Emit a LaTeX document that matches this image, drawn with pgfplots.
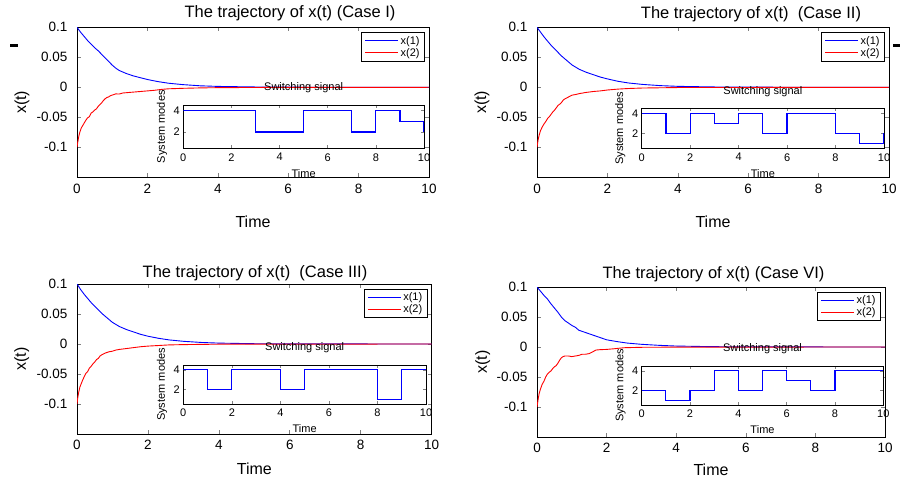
\documentclass[border=0pt]{standalone}
\usepackage{pgfplots}
\pgfplotsset{compat=1.18}
\usepackage{fontspec}
\setmainfont{Liberation Sans}

\definecolor{mblue}{RGB}{0,0,255}
\definecolor{mred}{RGB}{255,0,0}

\pgfplotsset{
  main/.style={
    scale only axis, height=150pt,
    xmin=0, xmax=10, ymin=-0.15, ymax=0.1,
    xtick={0,2,4,6,8,10},
    ytick={-0.1,-0.05,0,0.05,0.1},
    yticklabels={-0.1,-0.05,0,0.05,0.1},
    /pgf/number format/assume math mode=true,
    tick align=inside, major tick length=4pt,
    tick style={line width=0.6pt},
    axis line style={line width=0.8pt},
    ticklabel style={font=\fontsize{13.5}{15}\selectfont},
    yticklabel style={xshift=-6pt},
    xticklabel style={yshift=-3pt},
    xlabel={Time}, ylabel={x(t)},
    label style={font=\fontsize{16}{18}\selectfont},
    xlabel style={at={(axis description cs:0.5,0)}, anchor=center, yshift=-44pt},
    ylabel style={at={(axis description cs:-0.156,0.5)}, anchor=center},
    legend style={at={(axis description cs:1,1)}, anchor=north east,
      xshift=-4pt, yshift=-5pt, line width=0.8pt,
      font=\fontsize{11}{12}\selectfont, inner xsep=3pt, inner ysep=1.5pt,
      row sep=-1.5pt},
    legend cell align={left},
    legend image code/.code={\draw[#1, line width=0.9pt] (0pt,0pt) -- (33pt,0pt);},
  },
  inset/.style={
    scale only axis,
    xmin=0, xmax=10, ymin=0.5, ymax=4.5,
    xtick={0,2,4,6,8,10}, ytick={2,4},
    /pgf/number format/assume math mode=true,
    tick align=inside, major tick length=3pt,
    tick style={line width=0.6pt},
    axis line style={line width=0.8pt},
    axis background/.style={fill=white},
    ticklabel style={font=\fontsize{11}{12}\selectfont},
    xticklabel style={yshift=-1.5pt},
    title={Switching signal},
    title style={at={(axis description cs:0.5,1)}, anchor=center, yshift=11pt,
      font=\fontsize{11}{12}\selectfont},
    ylabel={System modes},
    ylabel style={at={(axis description cs:-0.088,0.5)}, anchor=center,
      font=\fontsize{11}{12}\selectfont},
    xlabel={Time},
    xlabel style={at={(axis description cs:0.5,0)}, anchor=center, yshift=-25pt,
      font=\fontsize{11}{12}\selectfont},
  },
  xone/.style={color=mblue, line width=0.9pt},
  xtwo/.style={color=mred, line width=0.9pt},
  sig/.style={const plot, color=mblue, line width=1.2pt},
}

\begin{document}
\begin{tikzpicture}[x=1pt,y=1pt]
\useasboundingbox (0,0) rectangle (901,483);

% titles and stray marks at the top edge
\fill (10,436) rectangle (18,439);
\fill (893,436) rectangle (900,439);
\node[font=\fontsize{16.5}{18}\selectfont] at (290,470) {The trajectory of x(t) (Case I)};
\node[font=\fontsize{16.5}{18}\selectfont] at (751,469) {The trajectory of x(t)~ (Case II)};
\node[font=\fontsize{16.5}{18}\selectfont] at (255,210) {The trajectory of x(t)~ (Case III)};
\node[font=\fontsize{16.5}{18}\selectfont] at (713.5,209) {The trajectory of x(t) (Case VI)};

% ================= Case I =================
\begin{axis}[main, at={(77pt,455.7pt)}, anchor=north west, width=352pt]
\addplot[xone] coordinates {(0,0.1)(0.1,0.092)(0.2,0.085)(0.3,0.078)(0.4,0.072)(0.5,0.066)(0.6,0.061)(0.7,0.055)(0.8,0.049)(0.9,0.043)(1.0,0.037)(1.1,0.032)(1.2,0.028)(1.4,0.023)(1.6,0.019)(1.8,0.016)(2.0,0.013)(2.3,0.0095)(2.6,0.0068)(3.0,0.0045)(3.5,0.0025)(4,0.0015)(5,0.0006)(6,0.0002)(7,0.0001)(10,0)};
\addlegendentry{x(1)}
\addplot[xtwo] coordinates {(0,-0.1)(0.02,-0.092)(0.05,-0.082)(0.08,-0.075)(0.12,-0.068)(0.16,-0.064)(0.2,-0.06)(0.25,-0.055)(0.3,-0.051)(0.35,-0.049)(0.4,-0.043)(0.45,-0.041)(0.5,-0.038)(0.55,-0.036)(0.6,-0.032)(0.65,-0.029)(0.7,-0.026)(0.75,-0.022)(0.8,-0.019)(0.85,-0.017)(0.9,-0.016)(0.95,-0.014)(1.0,-0.013)(1.1,-0.011)(1.2,-0.0112)(1.3,-0.0095)(1.4,-0.009)(1.6,-0.008)(1.8,-0.007)(2.0,-0.006)(2.2,-0.005)(2.4,-0.0035)(2.6,-0.0025)(3,-0.0017)(3.5,-0.001)(4,-0.0006)(5,-0.0003)(6,-0.0001)(10,0)};
\addlegendentry{x(2)}
\end{axis}
\begin{axis}[inset, at={(183.3pt,378pt)}, anchor=north west, width=240.7pt, height=43.3pt]
\addplot[sig] coordinates {(0,4)(3,2)(5,4)(7,2)(8,4)(9,3)(10,2)};
\end{axis}

% ================= Case II =================
\begin{axis}[main, at={(537pt,455.7pt)}, anchor=north west, width=352pt]
\addplot[xone] coordinates {(0,0.1)(0.1,0.092)(0.2,0.084)(0.3,0.077)(0.4,0.07)(0.5,0.064)(0.6,0.058)(0.7,0.052)(0.8,0.047)(0.9,0.042)(1.0,0.037)(1.2,0.03)(1.4,0.025)(1.6,0.021)(1.8,0.017)(2.0,0.014)(2.3,0.01)(2.6,0.0072)(3,0.0048)(3.5,0.0028)(4,0.0016)(5,0.0006)(6,0.0002)(10,0)};
\addlegendentry{x(1)}
\addplot[xtwo] coordinates {(0,-0.1)(0.03,-0.088)(0.06,-0.08)(0.1,-0.072)(0.15,-0.066)(0.2,-0.061)(0.25,-0.057)(0.3,-0.052)(0.35,-0.049)(0.4,-0.045)(0.45,-0.041)(0.5,-0.038)(0.55,-0.034)(0.6,-0.03)(0.65,-0.028)(0.7,-0.025)(0.75,-0.021)(0.8,-0.019)(0.9,-0.016)(1.0,-0.013)(1.1,-0.012)(1.2,-0.0105)(1.3,-0.0095)(1.4,-0.0085)(1.6,-0.007)(1.8,-0.006)(2.0,-0.0045)(2.3,-0.003)(2.6,-0.002)(3,-0.0012)(4,-0.0004)(10,0)};
\addlegendentry{x(2)}
\end{axis}
\begin{axis}[inset, at={(641.7pt,374.7pt)}, anchor=north west, width=242.3pt, height=40pt]
\addplot[sig] coordinates {(0,4)(1,2)(2,4)(3,3)(4,4)(5,2)(6,4)(8,2)(9,1)(10,2)};
\end{axis}

% ================= Case III =================
\begin{axis}[main, at={(77pt,199pt)}, anchor=north west, width=354.6pt,
  xlabel style={yshift=9pt}]
\addplot[xone] coordinates {(0,0.1)(0.1,0.091)(0.2,0.083)(0.3,0.076)(0.4,0.069)(0.5,0.063)(0.6,0.057)(0.7,0.051)(0.8,0.046)(0.9,0.041)(1.0,0.036)(1.2,0.029)(1.4,0.024)(1.6,0.02)(1.8,0.016)(2.0,0.013)(2.3,0.0095)(2.6,0.0068)(3,0.0045)(3.5,0.0026)(4,0.0015)(5,0.0005)(6,0.0002)(10,0)};
\addlegendentry{x(1)}
\addplot[xtwo] coordinates {(0,-0.1)(0.02,-0.09)(0.05,-0.08)(0.08,-0.072)(0.12,-0.066)(0.16,-0.06)(0.2,-0.055)(0.25,-0.049)(0.3,-0.046)(0.35,-0.04)(0.4,-0.037)(0.45,-0.033)(0.5,-0.03)(0.55,-0.026)(0.6,-0.024)(0.65,-0.02)(0.7,-0.018)(0.8,-0.015)(0.9,-0.013)(1.0,-0.012)(1.1,-0.01)(1.2,-0.009)(1.4,-0.0075)(1.6,-0.006)(1.8,-0.0045)(2.0,-0.0035)(2.3,-0.0025)(2.6,-0.0015)(3,-0.001)(4,-0.0003)(10,0)};
\addlegendentry{x(2)}
\end{axis}
\begin{axis}[inset, at={(183.3pt,118pt)}, anchor=north west, width=242.7pt, height=39pt]
\addplot[sig] coordinates {(0,4)(1,2)(2,4)(4,2)(5,4)(8,1)(9,4)(10,4)};
\end{axis}

% ================= Case VI =================
\begin{axis}[main, at={(537pt,196pt)}, anchor=north west, width=348pt,
  xlabel style={yshift=11pt}]
\addplot[xone] coordinates {(0,0.1)(0.1,0.093)(0.2,0.086)(0.3,0.08)(0.4,0.072)(0.5,0.065)(0.6,0.058)(0.7,0.05)(0.8,0.044)(0.9,0.04)(1.0,0.036)(1.1,0.033)(1.2,0.028)(1.4,0.024)(1.6,0.02)(1.8,0.016)(2.0,0.012)(2.3,0.009)(2.6,0.0065)(3,0.0045)(3.5,0.0028)(4,0.0016)(5,0.0006)(6,0.0002)(10,0)};
\addlegendentry{x(1)}
\addplot[xtwo] coordinates {(0,-0.1)(0.03,-0.088)(0.06,-0.078)(0.1,-0.07)(0.15,-0.062)(0.2,-0.057)(0.25,-0.05)(0.3,-0.045)(0.35,-0.042)(0.4,-0.04)(0.45,-0.036)(0.5,-0.033)(0.55,-0.031)(0.6,-0.027)(0.65,-0.022)(0.7,-0.018)(0.75,-0.016)(0.8,-0.015)(0.9,-0.015)(1.0,-0.016)(1.1,-0.015)(1.2,-0.014)(1.3,-0.012)(1.4,-0.012)(1.5,-0.011)(1.6,-0.008)(1.7,-0.005)(1.8,-0.0045)(2.0,-0.004)(2.2,-0.003)(2.5,-0.0012)(3,-0.0005)(4,-0.0002)(10,0)};
\addlegendentry{x(2)}
\end{axis}
\begin{axis}[inset, at={(641.7pt,117pt)}, anchor=north west, width=241.6pt, height=39pt]
\addplot[sig] coordinates {(0,2)(1,1)(2,2)(3,4)(4,2)(5,4)(6,3)(7,2)(8,4)(10,4)};
\end{axis}

\end{tikzpicture}
\end{document}
